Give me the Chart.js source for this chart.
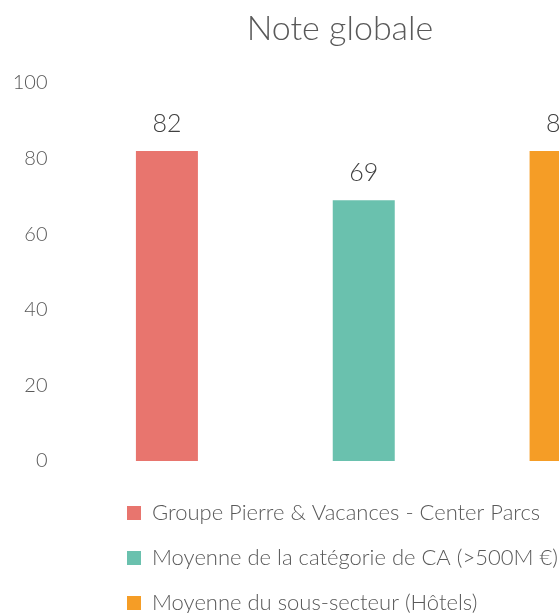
<!DOCTYPE html>
<html>
<head>
<meta charset="utf-8">
<script src="https://cdn.jsdelivr.net/npm/chart.js@4/dist/chart.umd.min.js"></script>
<style>
  html, body { margin: 0; padding: 0; background: #fff; overflow: hidden; }
  #wrap { width: 680px; height: 624px; }
</style>
</head>
<body>
<div id="wrap"><canvas id="c" width="680" height="624"></canvas></div>
<script>
const chartTitle = 'Note globale';
const categories = ['Note globale'];
const seriesNames = [
  'Groupe Pierre & Vacances - Center Parcs',
  'Moyenne de la catégorie de CA (>500M €)',
  'Moyenne du sous-secteur (Hôtels)'
];
const seriesValues = [82, 69, 82];
const seriesColors = ['#E8756E', '#6AC1AE', '#F59D26'];
const yTicks = [0, 20, 40, 60, 80, 100];

const FONT = 'Lato, "Open Sans", sans-serif';

const valueLabels = {
  id: 'valueLabels',
  afterDatasetsDraw(chart) {
    const ctx = chart.ctx;
    ctx.save();
    ctx.font = '300 25px ' + FONT;
    ctx.fillStyle = '#404040';
    ctx.textAlign = 'center';
    ctx.textBaseline = 'middle';
    chart.data.datasets.forEach((ds, i) => {
      const meta = chart.getDatasetMeta(i);
      meta.data.forEach((el, j) => {
        ctx.fillText(String(ds.data[j]), el.x, el.y - 27);
      });
    });
    ctx.restore();
  }
};

const blockShift = {
  id: 'blockShift',
  afterLayout(chart) {
    const lg = chart.legend;
    const pad = lg.options.labels.padding;
    lg.left = 127 - pad;
    const tb = chart.titleBlock;
    tb.left += 10.5;
    tb.right += 10.5;
  }
};

new Chart(document.getElementById('c'), {
  type: 'bar',
  data: {
    labels: categories,
    datasets: seriesNames.map((name, i) => ({
      label: name,
      data: [seriesValues[i]],
      backgroundColor: seriesColors[i],
      borderWidth: 0
    }))
  },
  options: {
    responsive: false,
    animation: false,
    devicePixelRatio: 1,
    layout: { padding: { left: 0, right: 21, top: 0, bottom: 0 } },
    datasets: { bar: { categoryPercentage: 1.0, barPercentage: 0.315 } },
    scales: {
      x: {
        display: true,
        grid: { display: false, drawTicks: false },
        border: { display: false },
        ticks: { display: false },
        afterFit(scale) { scale.height = 18; }
      },
      y: {
        min: 0,
        max: 100,
        afterBuildTicks(scale) { scale.ticks = yTicks.map(v => ({ value: v })); },
        grid: { display: false, drawTicks: false },
        border: { display: false },
        ticks: {
          padding: 21,
          color: '#595959',
          font: { family: FONT, size: 20, weight: '300' }
        },
        afterFit(scale) { scale.width = 68.5; }
      }
    },
    plugins: {
      title: {
        display: true,
        text: chartTitle,
        color: '#595959',
        font: { family: FONT, size: 34, weight: '300', lineHeight: 1.2 },
        padding: { top: 9, bottom: 33.2 }
      },
      legend: {
        display: true,
        position: 'bottom',
        align: 'start',
        labels: {
          boxWidth: 14,
          boxHeight: 14,
          padding: 23,
          color: '#595959',
          font: { family: FONT, size: 22, weight: '300' }
        }
      },
      tooltip: { enabled: false }
    }
  },
  plugins: [valueLabels, blockShift]
});
</script>
</body>
</html>
